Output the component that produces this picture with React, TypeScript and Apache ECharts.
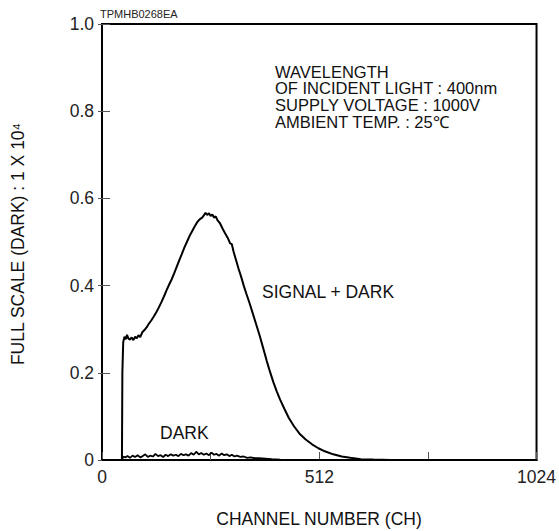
import React, { useEffect, useRef } from "react";
import * as echarts from "echarts";

const xTickLabels = [0, 512, 1024];
const yTickLabels = [0, 0.2, 0.4, 0.6, 0.8, 1.0];
const noteLines = [
  "WAVELENGTH",
  "OF INCIDENT LIGHT : 400nm",
  "SUPPLY VOLTAGE : 1000V",
  "AMBIENT TEMP. : 25\u2103",
];

const signalDark: [number, number][] = [
  [0, 0], [47, 0], [48, 0.2], [50, 0.27], [53, 0.283], [56, 0.277], [59, 0.287], [62, 0.279],
  [66, 0.276], [70, 0.281], [74, 0.275], [78, 0.283], [82, 0.279], [86, 0.286], [90, 0.282],
  [95, 0.293], [100, 0.298], [105, 0.304], [110, 0.312], [116, 0.32], [122, 0.329], [128, 0.339],
  [134, 0.35], [140, 0.362], [146, 0.375], [152, 0.389], [158, 0.402], [164, 0.414], [170, 0.428],
  [176, 0.443], [182, 0.458], [188, 0.472], [194, 0.487], [200, 0.5], [206, 0.513], [212, 0.524],
  [218, 0.535], [224, 0.545], [230, 0.552], [236, 0.556], [240, 0.561], [244, 0.567], [248, 0.562],
  [252, 0.566], [256, 0.56], [260, 0.563], [264, 0.556], [268, 0.559], [272, 0.55], [278, 0.543],
  [284, 0.531], [290, 0.52], [296, 0.51], [302, 0.497], [306, 0.495], [310, 0.478], [316, 0.458],
  [322, 0.438], [328, 0.42], [334, 0.4], [340, 0.382], [348, 0.359], [356, 0.334], [364, 0.309],
  [372, 0.284], [380, 0.256], [388, 0.228], [396, 0.202], [404, 0.178], [412, 0.157], [420, 0.138],
  [430, 0.117], [440, 0.097], [452, 0.078], [465, 0.061], [480, 0.047], [495, 0.036], [510, 0.027],
  [525, 0.02], [545, 0.013], [565, 0.008], [585, 0.005], [610, 0.002], [640, 0.001], [680, 0], [1024, 0],
];

const darkOnly: [number, number][] = [
  [48, 0], [49, 0.008], [55, 0.006], [60, 0.009], [66, 0.005], [72, 0.01], [78, 0.007], [84, 0.011],
  [90, 0.006], [96, 0.009], [102, 0.013], [108, 0.007], [114, 0.01], [120, 0.008], [126, 0.014],
  [132, 0.009], [138, 0.011], [144, 0.007], [150, 0.012], [156, 0.009], [162, 0.013], [168, 0.01],
  [174, 0.012], [180, 0.009], [186, 0.014], [192, 0.011], [198, 0.013], [204, 0.01], [210, 0.016],
  [216, 0.012], [222, 0.019], [228, 0.013], [234, 0.016], [240, 0.012], [246, 0.015], [252, 0.011],
  [258, 0.017], [264, 0.012], [270, 0.014], [276, 0.01], [282, 0.015], [288, 0.011], [294, 0.013],
  [300, 0.009], [306, 0.012], [312, 0.008], [318, 0.01], [326, 0.007], [334, 0.008], [342, 0.005],
  [350, 0.006], [360, 0.004], [370, 0.004], [385, 0.003], [400, 0.002], [420, 0.001], [450, 0], [1024, 0],
];

const FONT = "'Liberation Sans', Arial, sans-serif";
const FS = 17.5;
const NOTE_FS = 16.5;

export default function App() {
  const ref = useRef<HTMLDivElement>(null);
  useEffect(() => {
    document.body.style.margin = "0";
    if (!ref.current) return;
    const chart = echarts.init(ref.current, undefined, { renderer: "svg" });
    const yAxisCommon = {
      type: "value" as const,
      min: 0,
      max: 1,
      interval: 0.2,
      splitLine: { show: false },
    };
    const noteTexts = noteLines.map((t, i) => ({
      type: "text",
      x: 275,
      y: 71.7 + i * 16.7,
      style: {
        text: t,
        fontSize: NOTE_FS,
        fill: "#111",
        fontFamily: FONT,
        verticalAlign: "middle",
      },
    }));
    chart.setOption({
      animation: false,
      backgroundColor: "#ffffff",
      textStyle: { fontFamily: FONT },
      grid: {
        left: 102,
        right: 21,
        top: 24,
        bottom: 71,
        show: true,
        borderColor: "#000",
        borderWidth: 2,
        backgroundColor: "transparent",
      },
      xAxis: {
        type: "value",
        min: 0,
        max: 1024,
        interval: 256,
        splitLine: { show: false },
        axisLine: { show: true, lineStyle: { color: "#000", width: 2 } },
        axisTick: { show: true, inside: true, length: 8, lineStyle: { color: "#555", width: 1 } },
        axisLabel: {
          show: true,
          margin: 8,
          fontSize: FS,
          color: "#222",
          fontFamily: FONT,
          showMaxLabel: true,
          showMinLabel: true,
          formatter: (v: number) => (xTickLabels.includes(v) ? String(v) : ""),
        },
      },
      yAxis: [
        {
          ...yAxisCommon,
          axisLine: { show: true, lineStyle: { color: "#000", width: 2 } },
          axisTick: { show: true, inside: true, length: 8, lineStyle: { color: "#555", width: 1 } },
          axisLabel: {
            show: true,
            margin: 8,
            fontSize: FS,
            color: "#222",
            fontFamily: FONT,
            formatter: (v: number) => {
              const m = yTickLabels.find((t) => Math.abs(t - v) < 1e-6);
              if (m === undefined) return "";
              return m === 0 ? "0" : m.toFixed(1);
            },
          },
        },
        {
          ...yAxisCommon,
          position: "left",
          axisLine: { show: false },
          axisTick: { show: true, inside: false, length: 4, lineStyle: { color: "#555", width: 1 } },
          axisLabel: { show: false },
        },
      ],
      series: [
        {
          type: "line",
          name: "SIGNAL + DARK",
          data: signalDark,
          showSymbol: false,
          symbol: "none",
          lineStyle: { color: "#000", width: 2 },
          z: 3,
        },
        {
          type: "line",
          name: "DARK",
          data: darkOnly,
          showSymbol: false,
          symbol: "none",
          lineStyle: { color: "#000", width: 1.8 },
          z: 3,
        },
      ],
      graphic: [
        {
          type: "text",
          x: 100,
          y: 14,
          style: {
            text: "TPMHB0268EA",
            fontSize: 11,
            fill: "#222",
            fontFamily: FONT,
            verticalAlign: "middle",
          },
        },
        ...noteTexts,
        {
          type: "text",
          x: 262,
          y: 292,
          style: {
            text: "SIGNAL + DARK",
            fontSize: FS,
            fill: "#111",
            fontFamily: FONT,
            verticalAlign: "middle",
          },
        },
        {
          type: "text",
          x: 160,
          y: 433,
          style: {
            text: "DARK",
            fontSize: FS,
            fill: "#111",
            fontFamily: FONT,
            verticalAlign: "middle",
          },
        },
        {
          type: "text",
          x: 319,
          y: 518.5,
          style: {
            text: "CHANNEL NUMBER (CH)",
            fontSize: FS,
            fill: "#111",
            fontFamily: FONT,
            align: "center",
            verticalAlign: "middle",
          },
        },
        {
          type: "text",
          x: 18,
          y: 244,
          rotation: Math.PI / 2,
          style: {
            text: "FULL SCALE (DARK) : 1 X 10\u2074",
            fontSize: FS,
            fill: "#111",
            fontFamily: FONT,
            align: "center",
            verticalAlign: "middle",
          },
        },
      ],
    });
    return () => chart.dispose();
  }, []);
  return <div ref={ref} style={{ width: 559, height: 531 }} />;
}
